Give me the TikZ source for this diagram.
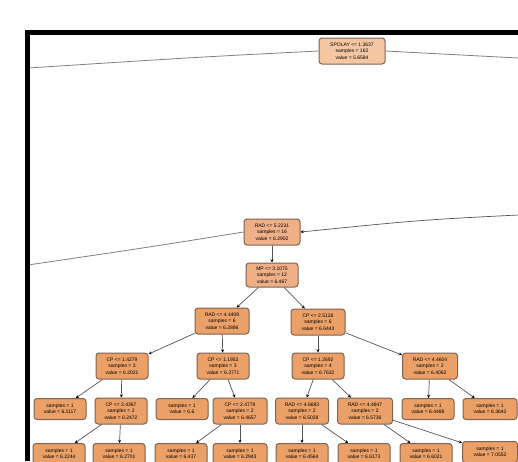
\documentclass[tikz,border=0pt]{standalone}
\usepackage{fontspec}
\setmainfont{Liberation Sans}
\usetikzlibrary{arrows.meta}
\definecolor{rootc}{HTML}{F4C6A2}
\definecolor{midc}{HTML}{EFB087}
\definecolor{deepc}{HTML}{EBA068}
\definecolor{bordc}{HTML}{7F6250}
\definecolor{edgec}{HTML}{555555}
\tikzset{
  tnode/.style={draw=bordc, line width=1pt, fill=deepc, rounded corners=3pt,
    font=\fontsize{5}{6.4}\selectfont, align=center, inner sep=1.5pt,
    minimum width=52pt, minimum height=21pt},
  tedge/.style={draw=edgec, line width=0.7pt, -{Stealth[length=3.2pt,width=3pt,color=black]}},
  farl/.style={draw=edgec!75, line width=0.8pt}
}
\begin{document}
\begin{tikzpicture}[x=1pt,y=1pt]
\useasboundingbox (0,0) rectangle (518,-461);
\clip (0,0) rectangle (518,-461);
\fill[white] (0,0) rectangle (518,-461);
% nodes
\node[tnode, fill=rootc, minimum width=66pt, minimum height=26pt] (n0) at (352,-51) {SPOLAY <= 1.3637\\samples = 162\\value = 5.6584};
\node[tnode, fill=midc, minimum width=56pt, minimum height=26pt] (n1) at (272,-232) {RAD <= 5.2231\\samples = 16\\value = 6.2902};
\node[tnode, fill=midc, minimum height=24pt] (n2) at (272,-275) {MP <= 3.1075\\samples = 12\\value = 6.467};
\node[tnode, minimum width=54pt, minimum height=26pt] (n3) at (222,-321) {RAD <= 4.4409\\samples = 6\\value = 6.2896};
\node[tnode, minimum width=54pt, minimum height=26pt] (n4) at (318,-322) {CP <= 2.5128\\samples = 6\\value = 6.6443};
\node[tnode, minimum height=26pt] (n5) at (122,-366) {CP <= 1.4279\\samples = 3\\value = 6.2021};
\node[tnode, minimum height=26pt] (n6) at (223,-366) {CP <= 1.1953\\samples = 3\\value = 6.3771};
\node[tnode, minimum height=26pt] (n7) at (318,-366) {CP <= 1.2692\\samples = 4\\value = 6.7632};
\node[tnode, minimum width=55pt, minimum height=26pt] (n8) at (430,-366) {RAD <= 4.4604\\samples = 2\\value = 6.4062};
% row 4
\node[tnode] (l1) at (60,-409) {samples = 1\\value = 6.1117};
\node[tnode, minimum height=26pt] (n9) at (121,-411) {CP <= 2.4367\\samples = 2\\value = 6.2472};
\node[tnode] (l2) at (182,-409) {samples = 1\\value = 6.6};
\node[tnode, minimum width=54pt, minimum height=26pt] (n10) at (240,-411) {CP <= 2.4779\\samples = 2\\value = 6.4657};
\node[tnode, minimum width=53pt, minimum height=26pt] (n11) at (302,-411) {RAD <= 4.6683\\samples = 2\\value = 6.5028};
\node[tnode, minimum width=55pt, minimum height=26pt] (n12) at (365,-411) {RAD <= 4.4847\\samples = 2\\value = 6.5736};
\node[tnode] (l3) at (428,-409) {samples = 1\\value = 6.4488};
\node[tnode, minimum width=54pt] (l4) at (490,-409) {samples = 1\\value = 6.3642};
% row 5
\node[tnode] (b1) at (59,-454) {samples = 1\\value = 6.2244};
\node[tnode] (b2) at (119,-454) {samples = 1\\value = 6.2701};
\node[tnode] (b3) at (181,-454) {samples = 1\\value = 6.437};
\node[tnode, minimum width=54pt] (b4) at (240,-454) {samples = 1\\value = 6.2943};
\node[tnode] (b5) at (302,-454) {samples = 1\\value = 6.4564};
\node[tnode] (b6) at (364,-454) {samples = 1\\value = 6.6173};
\node[tnode] (b7) at (426,-454) {samples = 1\\value = 6.6021};
\node[tnode, minimum width=55pt] (b8) at (490,-452) {samples = 1\\value = 7.0552};
% off-picture endpoints
\coordinate (r0l) at (28,-68);
\coordinate (r0r) at (518,-58);
\coordinate (r1in) at (518,-215);
\coordinate (r1l) at (28,-265);
% long edges
\draw[farl] (n0.west) .. controls (200,-57) .. (r0l);
\draw[farl] (n0.east) -- (r0r);
\draw[tedge] (r1in) .. controls (420,-220) .. (n1.east);
\draw[farl] (n1.west) .. controls (150,-247) .. (r1l);
% tree edges
\draw[tedge] (n1) -- (n2);
\draw[tedge] (n2) -- (n3);
\draw[tedge] (n2) -- (n4);
\draw[tedge] (n3) -- (n5);
\draw[tedge] (n3) -- (n6);
\draw[tedge] (n4) -- (n7);
\draw[tedge] (n4) -- (n8);
\draw[tedge] (n5) -- (l1);
\draw[tedge] (n5) -- (n9);
\draw[tedge] (n6) -- (l2);
\draw[tedge] (n6) -- (n10);
\draw[tedge] (n7) -- (n11);
\draw[tedge] (n7) -- (n12);
\draw[tedge] (n8) -- (l3);
\draw[tedge] (n8) -- (l4);
\draw[tedge] (n9) -- (b1);
\draw[tedge] (n9) -- (b2);
\draw[tedge] (n10) -- (b3);
\draw[tedge] (n10) -- (b4);
\draw[tedge] (n11) -- (b5);
\draw[tedge] (n11) -- (b6);
\draw[tedge] (n12) -- (b7);
\draw[tedge] (n12) -- (b8);
% frame
\fill[black] (25,-30) rectangle (518,-35);
\fill[black] (25,-30) rectangle (30,-461);
\end{tikzpicture}
\end{document}
